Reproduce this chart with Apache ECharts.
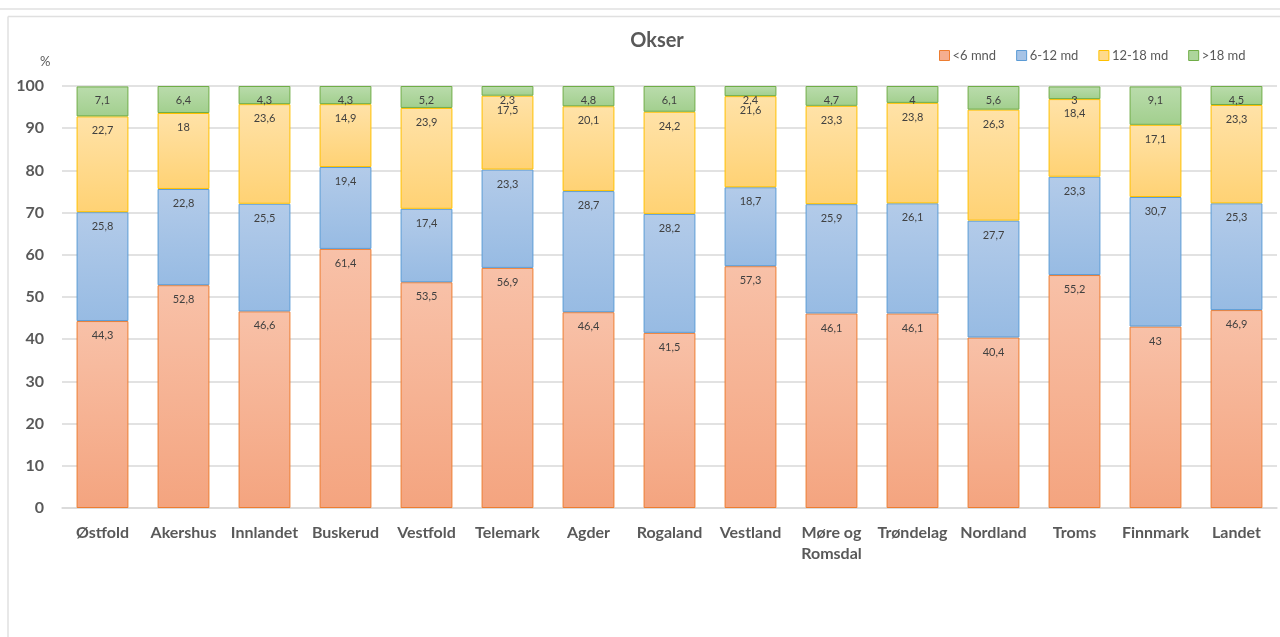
<!DOCTYPE html>
<html>
<head>
<meta charset="utf-8">
<script src="https://cdn.jsdelivr.net/npm/echarts@6/dist/echarts.min.js"></script>
<style>
html,body{margin:0;padding:0;background:#fff;}
#c{width:1280px;height:637px;}
</style>
</head>
<body>
<div id="c"></div>
<script>
const categories = ['Østfold','Akershus','Innlandet','Buskerud','Vestfold','Telemark','Agder','Rogaland','Vestland','Møre og\nRomsdal','Trøndelag','Nordland','Troms','Finnmark','Landet'];
const under6 = [44.3,52.8,46.6,61.4,53.5,56.9,46.4,41.5,57.3,46.1,46.1,40.4,55.2,43,46.9];
const m6to12 = [25.8,22.8,25.5,19.4,17.4,23.3,28.7,28.2,18.7,25.9,26.1,27.7,23.3,30.7,25.3];
const m12to18 = [22.7,18,23.6,14.9,23.9,17.5,20.1,24.2,21.6,23.3,23.8,26.3,18.4,17.1,23.3];
const over18 = [7.1,6.4,4.3,4.3,5.2,2.3,4.8,6.1,2.4,4.7,4,5.6,3,9.1,4.5];
const seriesNames = ['<6 mnd','6-12 md','12-18 md','>18 md'];

const FONT = 'Lato, "Open Sans", sans-serif';
function grad(top, bottom){
  return {type:'linear',x:0,y:0,x2:0,y2:1,colorStops:[{offset:0,color:top},{offset:1,color:bottom}]};
}
const styles = [
  {fill:grad('#f8c1a8','#f4a47f'), border:'#ed7d31', legend:'#f5ae90'},
  {fill:grad('#b3cbe9','#97bbe3'), border:'#5b9bd5', legend:'#a6c3e6'},
  {fill:grad('#ffe2a8','#ffd274'), border:'#ffc000', legend:'#ffda8c'},
  {fill:grad('#badcac','#a2cf8e'), border:'#70ad47', legend:'#add59c'}
];
const dataSets = [under6, m6to12, m12to18, over18];

const series = dataSets.map((d,i)=>({
  name: seriesNames[i],
  type:'bar',
  stack:'total',
  barWidth:'64%',
  data:d,
  itemStyle:{color:styles[i].fill, borderColor:styles[i].border, borderWidth:1},
  label:{
    show:true, position:'insideTop', distance:9,
    fontFamily:FONT, fontSize:11, color:'#404040',
    formatter:p=>String(p.value).replace('.',',')
  },
  emphasis:{disabled:true}
}));

const chart = echarts.init(document.getElementById('c'), null, {renderer:'canvas'});
chart.setOption({
  animation:false,
  backgroundColor:'#fff',
  title:{
    text:'Okser', left:652, top:26, textAlign:'center',
    textStyle:{fontFamily:FONT, fontSize:20, fontWeight:'bold', color:'#595959'}
  },
  legend:{
    left:934, top:44, itemWidth:10, itemHeight:10, itemGap:20,
    icon:'rect',
    textStyle:{fontFamily:FONT, fontSize:13, color:'#595959', padding:[0,0,0,-2]},
    data:seriesNames.map((n,i)=>({name:n, itemStyle:{color:styles[i].legend, borderColor:styles[i].border, borderWidth:1}}))
  },
  grid:{left:62, right:3, top:86, bottom:129, containLabel:false},
  xAxis:{
    type:'category', data:categories,
    axisLine:{lineStyle:{color:'#d9d9d9', width:1.5}},
    axisTick:{show:false},
    axisLabel:{fontFamily:FONT, fontSize:16, fontWeight:'bold', color:'#595959', margin:14, lineHeight:21, interval:0}
  },
  yAxis:{
    type:'value', min:0, max:100, interval:10,
    axisLine:{show:false}, axisTick:{show:false},
    splitLine:{lineStyle:{color:'#d9d9d9', width:1.5}},
    axisLabel:{fontFamily:FONT, fontSize:16, fontWeight:'bold', color:'#595959', margin:18}
  },
  graphic:[
    {type:'line', shape:{x1:0,y1:9,x2:1280,y2:9}, style:{stroke:'#e0e0e0', lineWidth:1.5}, silent:true},
    {type:'line', shape:{x1:8,y1:16.5,x2:1280,y2:16.5}, style:{stroke:'#e0e0e0', lineWidth:1.5}, silent:true},
    {type:'line', shape:{x1:8,y1:16.5,x2:8,y2:637}, style:{stroke:'#e0e0e0', lineWidth:1.5}, silent:true},
    {type:'text', left:40, top:55, style:{text:'%', fontFamily:FONT, fontSize:13, fill:'#595959'}, silent:true}
  ],
  series:series
});
</script>
</body>
</html>
